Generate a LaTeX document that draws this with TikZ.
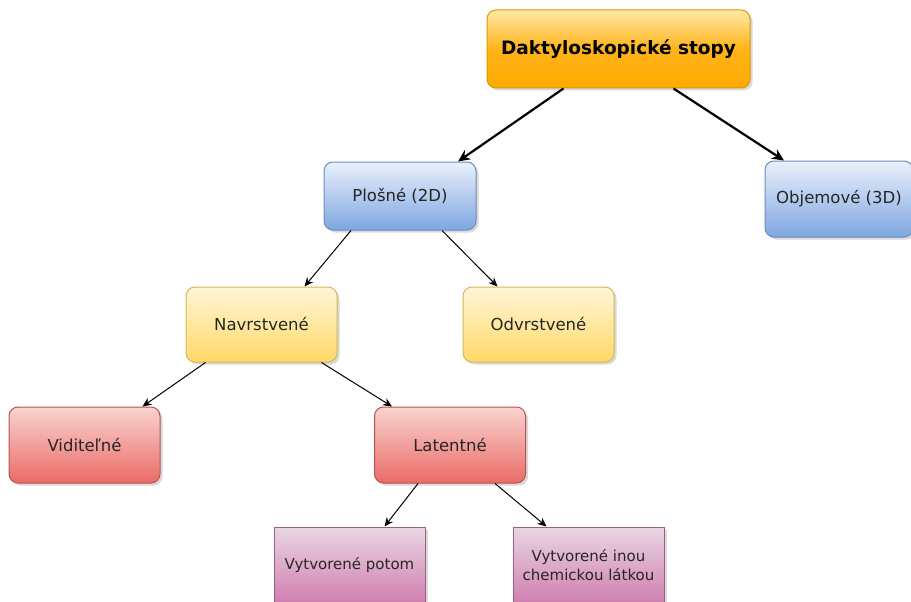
\documentclass[tikz,border=0pt]{standalone}
\usepackage{fontspec}
\setmainfont{DejaVu Sans}
\usetikzlibrary{arrows.meta,shadows}
\definecolor{orT}{HTML}{FFE9A8}\definecolor{orB}{HTML}{FFAA00}\definecolor{orD}{HTML}{D79B00}
\definecolor{blT}{HTML}{EAF0FB}\definecolor{blB}{HTML}{7EA6E0}\definecolor{blD}{HTML}{6C8EBF}
\definecolor{yeT}{HTML}{FFF6D8}\definecolor{yeB}{HTML}{FFD966}\definecolor{yeD}{HTML}{D6B656}
\definecolor{reT}{HTML}{F9D3D1}\definecolor{reB}{HTML}{EA6B66}\definecolor{reD}{HTML}{B85450}
\definecolor{puT}{HTML}{E9D6E2}\definecolor{puB}{HTML}{D07FB0}\definecolor{puD}{HTML}{996185}
\tikzset{
  box/.style={draw, line width=1pt, rounded corners=9pt, inner sep=0pt, align=center,
    text=black!85, font=\fontsize{16.5}{20}\selectfont,
    drop shadow={opacity=0.3, shadow xshift=2.5pt, shadow yshift=-2.5pt}},
  orbox/.style={box, draw=orD, top color=orT, bottom color=orB, middle color=orB!85!orT,
    minimum width=263pt, minimum height=78pt, text=black, font=\fontsize{18.5}{22}\selectfont\bfseries},
  blbox/.style={box, draw=blD, top color=blT, bottom color=blB},
  yebox/.style={box, draw=yeD, top color=yeT, bottom color=yeB},
  rebox/.style={box, draw=reD, top color=reT, bottom color=reB},
  pubox/.style={box, rounded corners=0pt, draw=puD, top color=puT, bottom color=puB,
    font=\fontsize{15}{18.5}\selectfont},
  bigarr/.style={line width=2.2pt, -{Stealth[length=12pt,width=11pt]}},
  arr/.style={line width=1pt, -{Stealth[length=9pt,width=8pt]}},
}
\begin{document}
\begin{tikzpicture}[x=1pt,y=-1pt]
\useasboundingbox (0,0) rectangle (911,602);
\clip (0,0) rectangle (911,602);
\node[orbox] (dak) at (618.5,49) {Daktyloskopické stopy};
\node[blbox, minimum width=152pt, minimum height=68pt] (plo) at (400,196) {Plošné (2D)};
\node[blbox, minimum width=148pt, minimum height=76pt] (obj) at (839,199) {Objemové (3D)};
\node[yebox, minimum width=151pt, minimum height=75pt] (nav) at (261.5,324.5) {Navrstvené};
\node[yebox, minimum width=151pt, minimum height=75pt] (odv) at (538.5,324.5) {Odvrstvené};
\node[rebox, minimum width=151pt, minimum height=76pt] (vid) at (84.5,445) {Viditeľné};
\node[rebox, minimum width=151pt, minimum height=76pt] (lat) at (450,445) {Latentné};
\node[pubox, minimum width=151pt, minimum height=76pt] (vpo) at (349.5,565) {Vytvorené potom};
\node[pubox, minimum width=151pt, minimum height=76pt] (vch) at (588.5,565) {Vytvorené inou\\chemickou látkou};
\draw[bigarr] ([xshift=-55pt]dak.south) -- ([xshift=58pt]plo.north);
\draw[bigarr] ([xshift=55pt]dak.south) -- ([xshift=-55pt]obj.north);
\draw[arr] ([xshift=-49pt]plo.south) -- ([xshift=43pt]nav.north);
\draw[arr] ([xshift=42pt]plo.south) -- ([xshift=-41pt]odv.north);
\draw[arr] ([xshift=-56pt]nav.south) -- ([xshift=58pt]vid.north);
\draw[arr] ([xshift=60pt]nav.south) -- ([xshift=-58pt]lat.north);
\draw[arr] ([xshift=-32pt]lat.south) -- ([xshift=35pt]vpo.north);
\draw[arr] ([xshift=45pt]lat.south) -- ([xshift=-42pt]vch.north);
\end{tikzpicture}
\end{document}
